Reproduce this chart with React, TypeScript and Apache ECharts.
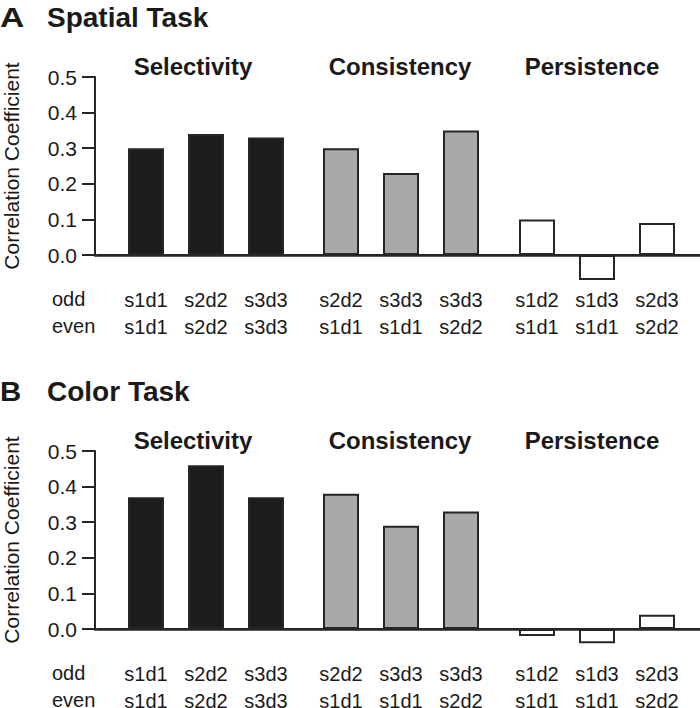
import React, { useEffect, useRef } from "react";
import * as echarts from "echarts";

// ---- data ----
const panelLetters = ["A", "B"];
const panelTitles = ["Spatial Task", "Color Task"];
const groupNames = ["Selectivity", "Consistency", "Persistence"];
const oddLabels = [
  ["s1d1", "s2d2", "s3d3"],
  ["s2d2", "s3d3", "s3d3"],
  ["s1d2", "s1d3", "s2d3"],
];
const evenLabels = [
  ["s1d1", "s2d2", "s3d3"],
  ["s1d1", "s1d1", "s2d2"],
  ["s1d1", "s1d1", "s2d2"],
];
const spatialValues = [
  [0.3, 0.34, 0.33],
  [0.3, 0.23, 0.35],
  [0.1, -0.07, 0.09],
];
const colorValues = [
  [0.37, 0.46, 0.37],
  [0.38, 0.29, 0.33],
  [-0.02, -0.04, 0.04],
];
const panelValues = [spatialValues, colorValues];
const rowLabels = ["odd", "even"];
const yMin = 0;
const yMax = 0.5;
const yInterval = 0.1;
const yAxisName = "Correlation Coefficient";
const baselineValue = 0;

// ---- style / layout ----
const FONT = "'Liberation Sans', Arial, Helvetica, sans-serif";
const TEXT = "#1a1a1a";
const LINE = "#262626";
const groupFills = ["#1c1c1c", "#a9a9a9", "#ffffff"];
const panelTops = [77, 451];
const plotHeight = 178;
const groupLefts = [116, 311, 507];
const groupWidth = 180;
const groupTitleX = [193, 400, 592];

export default function App() {
  const ref = useRef<HTMLDivElement>(null);

  useEffect(() => {
    if (!ref.current) return;
    const chart = echarts.init(ref.current, undefined, { renderer: "svg" });

    const grid: any[] = [];
    const xAxis: any[] = [];
    const yAxis: any[] = [];
    const series: any[] = [];
    const graphic: any[] = [];

    panelTops.forEach((top, p) => {
      // frame grid: y axis and the zero baseline across the panel
      const axisIdx = grid.length;
      grid.push({ left: 95, right: 0, top, height: plotHeight, outerBoundsMode: "none", containLabel: false });
      xAxis.push({
        gridIndex: axisIdx,
        type: "value",
        min: 0,
        max: 1,
        z: 5,
        axisLine: { show: true, onZero: false, lineStyle: { color: LINE, width: 2.5 } },
        axisTick: { show: false },
        axisLabel: { show: false },
        splitLine: { show: false },
      });
      yAxis.push({
        gridIndex: axisIdx,
        type: "value",
        min: yMin,
        max: yMax,
        interval: yInterval,
        axisLine: { show: true, lineStyle: { color: LINE, width: 2 } },
        axisTick: { show: true, length: 13, lineStyle: { color: LINE, width: 2 } },
        axisLabel: {
          fontSize: 21,
          fontFamily: FONT,
          color: TEXT,
          margin: 18,
          formatter: (v: number) => v.toFixed(1),
        },
        splitLine: { show: false },
        name: yAxisName,
        nameLocation: "middle",
        nameGap: 73,
        nameTextStyle: { fontSize: 21, fontFamily: FONT, color: TEXT },
      });
      series.push({
        type: "line",
        xAxisIndex: axisIdx,
        yAxisIndex: axisIdx,
        data: [
          [0.004, baselineValue],
          [1, baselineValue],
        ],
        symbol: "none",
        silent: true,
        clip: false,
        z: 6,
        lineStyle: { color: LINE, width: 2 },
      });

      groupNames.forEach((gName, g) => {
        const gi = grid.length;
        grid.push({ left: groupLefts[g], width: groupWidth, top, height: plotHeight, outerBoundsMode: "none", containLabel: false });
        xAxis.push({
          gridIndex: gi,
          type: "category",
          data: oddLabels[g].map((o, i) => o + "\n" + evenLabels[g][i]),
          axisLine: { show: false },
          axisTick: { show: false },
          axisLabel: {
            fontSize: 20,
            fontFamily: FONT,
            color: TEXT,
            lineHeight: 27,
            margin: 31,
            interval: 0,
          },
        });
        yAxis.push({ gridIndex: gi, type: "value", min: yMin, max: yMax, show: false });
        series.push({
          type: "bar",
          xAxisIndex: gi,
          yAxisIndex: gi,
          data: panelValues[p][g],
          barWidth: 36,
          clip: false,
          silent: true,
          z: 3,
          itemStyle: { color: groupFills[g], borderColor: LINE, borderWidth: 2 },
        });
        graphic.push({
          type: "text",
          x: groupTitleX[g],
          y: top - 11,
          style: {
            text: gName,
            fontSize: 24,
            fontWeight: "bold",
            fontFamily: FONT,
            fill: TEXT,
            align: "center",
            verticalAlign: "middle",
          },
        });
      });

      // panel letter and title
      graphic.push({
        type: "text",
        x: 0,
        y: top - 60,
        scaleX: p === 0 ? 1.2 : 1.05,
        style: {
          text: panelLetters[p],
          fontSize: 28,
          fontWeight: "bold",
          fontFamily: FONT,
          fill: TEXT,
          align: "left",
          verticalAlign: "middle",
        },
      });
      graphic.push({
        type: "text",
        x: 47,
        y: top - 60,
        style: {
          text: panelTitles[p],
          fontSize: 28,
          fontWeight: "bold",
          fontFamily: FONT,
          fill: TEXT,
          align: "left",
          verticalAlign: "middle",
        },
      });
      // odd / even row labels
      rowLabels.forEach((r, ri) => {
        graphic.push({
          type: "text",
          x: 52,
          y: top + plotHeight + 44 + ri * 27,
          style: {
            text: r,
            fontSize: 20,
            fontFamily: FONT,
            fill: TEXT,
            align: "left",
            verticalAlign: "middle",
          },
        });
      });
    });

    chart.setOption({
      animation: false,
      backgroundColor: "#ffffff",
      textStyle: { fontFamily: FONT },
      grid,
      xAxis,
      yAxis,
      series,
      graphic,
    });

    return () => chart.dispose();
  }, []);

  return (
    <div
      ref={ref}
      style={{ position: "fixed", left: 0, top: 0, width: 700, height: 708 }}
    />
  );
}
